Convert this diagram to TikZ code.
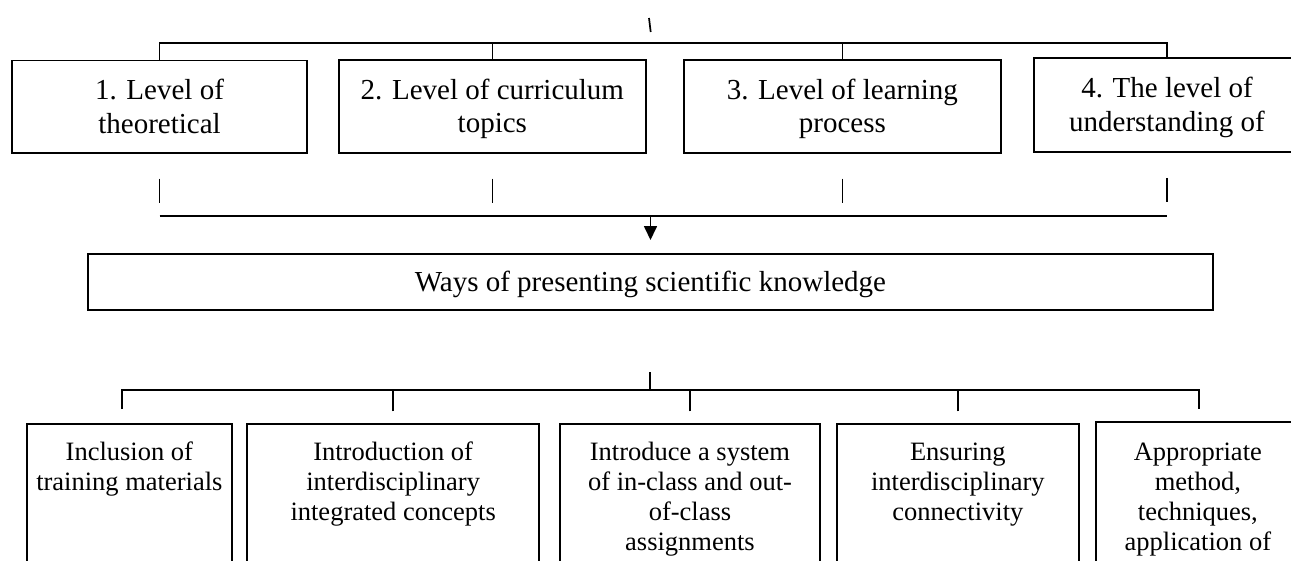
\documentclass[tikz,border=0pt]{standalone}
\usepackage{fontspec}
\setmainfont{Liberation Serif}
\usetikzlibrary{calc,arrows.meta}
\newcommand{\boxtext}[4]{\parbox[c][#2][t]{#1}{\centering\vspace*{#3}\strut #4\par}}
\begin{document}
\begin{tikzpicture}[x=1pt,y=-1pt,line width=1.7pt,
  box/.style={draw,inner sep=0pt,outer sep=0pt,anchor=north west,line width=1.8pt},
  topf/.style={font=\fontsize{29}{33.4}\selectfont},
  botf/.style={font=\fontsize{26.5}{30}\selectfont},
  arr/.style={-{Triangle[length=14pt,width=13pt]}}]
\useasboundingbox (0,0) rectangle (1291,560);
\clip (0,0) rectangle (1291,560);

% top level boxes
\node[box,topf] (T1) at (12,60.5) {\boxtext{295pt}{92.5pt}{16pt}{1. Level of\\ theoretical}};
\node[box,topf] (T2) at (338.7,60) {\boxtext{307.3pt}{93pt}{16pt}{2. Level of curriculum\\ topics}};
\node[box,topf] (T3) at (683.7,60) {\boxtext{317.3pt}{93pt}{16pt}{3. Level of learning\\ process}};
\node[box,topf] (T4) at (1034,58.3) {\boxtext{266pt}{94pt}{16pt}{4. The level of\\ understanding of}};

% central box
\node[box,topf] (Big) at (87.7,254) {\boxtext{1125.6pt}{56pt}{14.3pt}{Ways of presenting scientific knowledge}};

% bottom boxes
\node[box,botf] (B1) at (27,424.3) {\boxtext{204.7pt}{156pt}{14.7pt}{Inclusion of\\ training materials}};
\node[box,botf] (B2) at (247.3,424.3) {\boxtext{291.7pt}{156pt}{14.7pt}{Introduction of\\ interdisciplinary\\ integrated concepts}};
\node[box,botf] (B3) at (560,424.3) {\boxtext{260pt}{156pt}{14.7pt}{Introduce a system\\ of in-class and out-\\ of-class\\ assignments}};
\node[box,botf] (B4) at (836.7,424.3) {\boxtext{242.3pt}{156pt}{14.7pt}{Ensuring\\ interdisciplinary\\ connectivity}};
\node[box,botf] (B5) at (1095.7,421.7) {\boxtext{204.3pt}{160pt}{17.3pt}{Appropriate\\ method,\\ techniques,\\ application of}};

% stray tick at top
\coordinate (tickA) at (649,18);
\coordinate (tickB) at (650.7,32);
\draw (tickA) -- (tickB);

% top bus
\coordinate (topbus) at (650,42.7);
\draw (T1.north) |- (topbus) -| (T4.north);
\draw (T2.north) -- (T2.north |- topbus);
\draw (T3.north) -- (T3.north |- topbus);

% ticks under top boxes
\foreach \n in {T1,T2,T3,T4}
  \draw ($(\n.south)+(0,25.5)$) -- ($(\n.south)+(0,49.5)$);

% middle bus and arrow
\coordinate (midbus) at (650,215.7);
\draw (T1.south |- midbus) -- (T4.south |- midbus);
\draw[arr,shorten >=14pt] (Big.north |- midbus) -- (Big.north);

% bottom bus
\coordinate (botbus) at (649.7,390);
\coordinate (stubtop) at (649.7,371.7);
\draw (botbus) -- (stubtop);
\draw ($(B1.north)+(-7.6,-15.3)$) |- (botbus) -| ($(B5.north)+(1.4,-12.7)$);
\foreach \n in {B2,B3,B4}
  \draw[shorten <=13pt] (\n.north) -- (\n.north |- botbus);
\end{tikzpicture}
\end{document}
